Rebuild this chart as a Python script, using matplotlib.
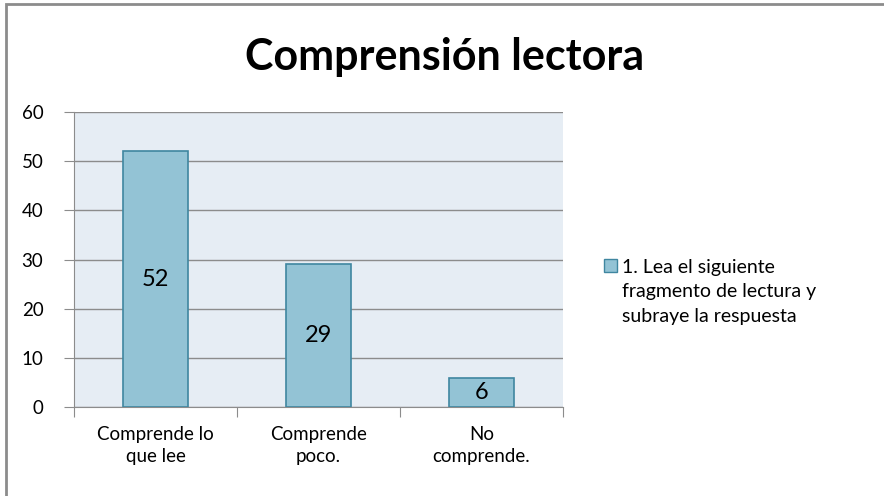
import numpy as np
import matplotlib.pyplot as plt
from matplotlib.patches import Rectangle

# --- Data ---
categories = ["Comprende lo\nque lee", "Comprende\npoco.", "No\ncomprende."]
values = [52, 29, 6]
series_name = "1. Lea el siguiente\nfragmento de lectura y\nsubraye la respuesta"
yticks = [0, 10, 20, 30, 40, 50, 60]

bar_color = '#93c3d5'
edge_color = '#3f86a0'

plt.rcParams['font.family'] = ['Lato', 'DejaVu Sans']

fig = plt.figure(figsize=(8.84, 4.96), dpi=100)
# outer chart frame (only top/left edges show in the reference)
fig.patches.append(Rectangle((6 / 884, -0.05), 1.2, 1 - 4.5 / 496 + 0.05,
                             transform=fig.transFigure, fill=False,
                             edgecolor='#8c8c8c', linewidth=2))

ax = fig.add_axes([0.0837, 0.1794, 0.5532, 0.5946])
ax.set_facecolor('#e6edf4')

x = np.arange(len(categories))
bars = ax.bar(x, values, width=0.4, color=bar_color, edgecolor=edge_color,
              linewidth=1.2, zorder=3)

for xi, v in zip(x, values):
    ax.text(xi, v / 2, str(v), ha='center', va='center', fontsize=17, zorder=4)

ax.set_xlim(-0.5, 2.5)
ax.set_ylim(0, 60)
ax.set_yticks(yticks)
ax.yaxis.grid(True, color='#8c8c8c', linewidth=1, zorder=1)
ax.tick_params(axis='y', length=7, color='#8c8c8c', labelsize=13.5, pad=15)

# category ticks sit at the boundaries, labels in the middle
ax.set_xticks([-0.5, 0.5, 1.5, 2.5])
ax.set_xticklabels([])
ax.set_xticks(x, minor=True)
ax.set_xticklabels(categories, minor=True, fontsize=13.5, linespacing=1.3)
ax.tick_params(axis='x', which='major', length=7, color='#8c8c8c')
ax.tick_params(axis='x', which='minor', length=0, pad=14)

for s in ['top', 'right']:
    ax.spines[s].set_visible(False)
for s in ['left', 'bottom']:
    ax.spines[s].set_color('#8c8c8c')

fig.text(0.503, 1 - 70 / 496, "Comprensión lectora", ha='center', va='baseline',
         fontsize=31, fontweight='bold')

# legend: square beside the first line, text wrapped over three lines
fig.patches.append(Rectangle((604 / 884, 1 - 272 / 496), 13 / 884, 13 / 496,
                             transform=fig.transFigure, facecolor=bar_color,
                             edgecolor=edge_color, linewidth=1))
for i, line in enumerate(series_name.split("\n")):
    fig.text(622 / 884, 1 - (273 + 24.5 * i) / 496, line, ha='left',
             va='baseline', fontsize=14)

fig.savefig('out.png', dpi=100)
